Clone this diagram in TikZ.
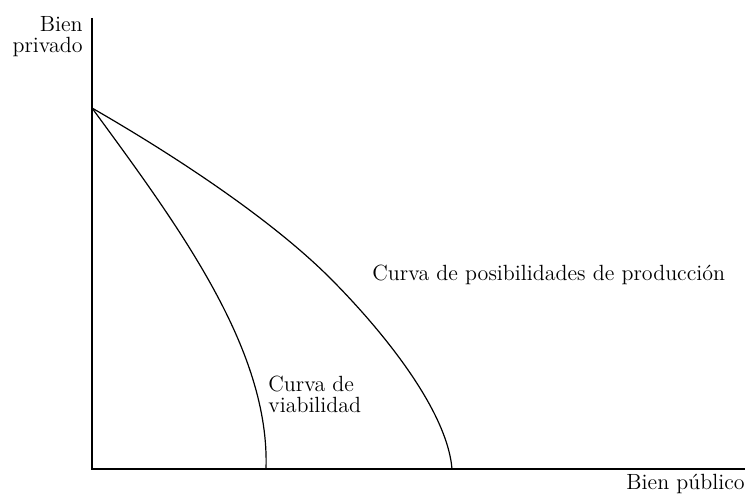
\documentclass[tikz,border=0pt]{standalone}

\tikzset{
  etiqueta/.style={inner sep=0pt, font={\fontsize{11}{10.5}\selectfont}},
  curva/.style={line width=0.6pt},
  eje/.style={line width=0.7pt}
}

\begin{document}
\begin{tikzpicture}[x=0.5pt, y=-0.5pt]
        \useasboundingbox (0,0) rectangle (747,497);
        % ejes
        \coordinate (O) at (92,469);
        \coordinate (Ytop) at (92,18);
        \coordinate (Xend) at (745,469);
        \draw[eje] (Ytop) -- (O) -- (Xend);

        \node[etiqueta, anchor=north east, align=right] (yl) at (83,16) {Bien\\privado};
        \node[etiqueta, anchor=base east] (xl) at (745,489) {Bien p\'ublico};

        % frontera de posibilidades
        \coordinate (A) at (92,108);
        \coordinate (M) at (330,278);
        \coordinate (B) at (452,469);
        \draw[curva] (A) .. controls (172,154) and (270,218) .. (M)
                         .. controls (380,328) and (447,409) .. (B);
        \node[etiqueta, anchor=base west] (fpp) at (372,280) {Curva de posibilidades de producci\'on};

        % curva de viabilidad
        \coordinate (C) at (266,469);
        \draw[curva] (A) .. controls (180,228) and (270,350) .. (C);
        \node[etiqueta, anchor=north west, align=left] (cv) at (268,376) {Curva de\\viabilidad};
\end{tikzpicture}
\end{document}
